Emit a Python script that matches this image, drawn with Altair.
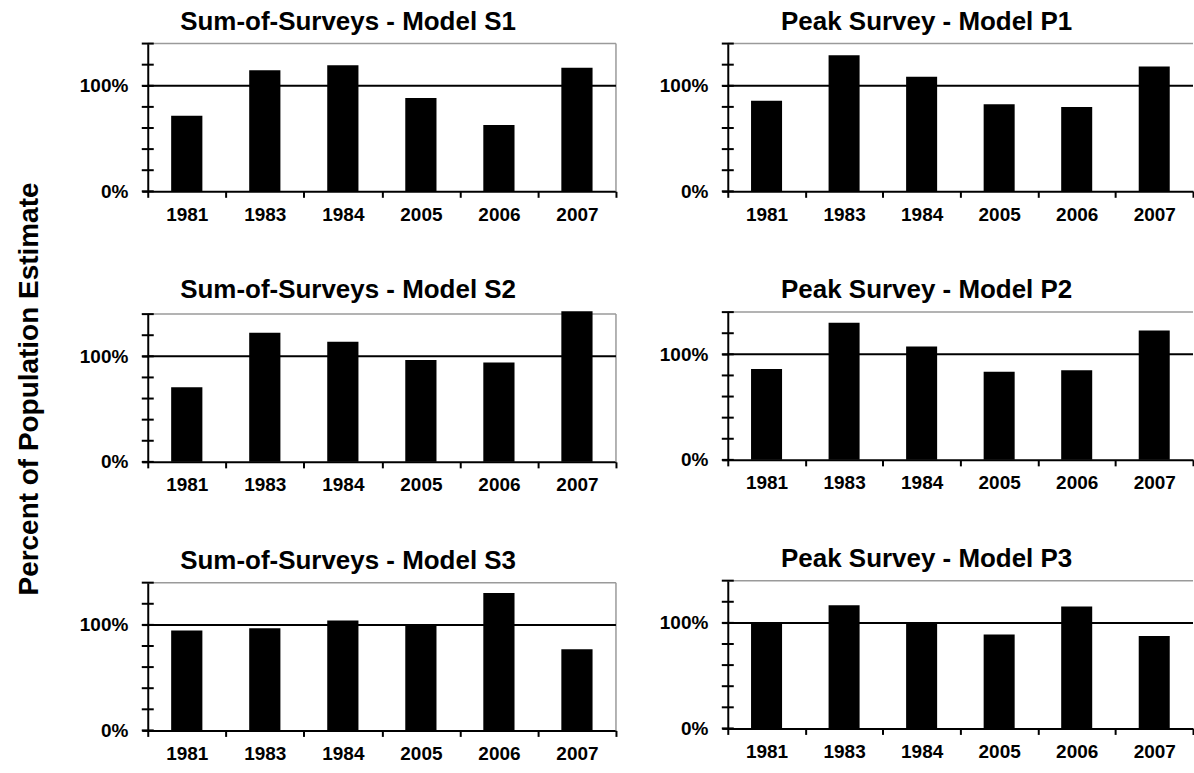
import altair as alt
import pandas as pd

FONT = "Liberation Sans"

# Survey years shown on every panel
years = ["1981", "1983", "1984", "2005", "2006", "2007"]

# Percent of population estimate, per model
s1 = [71.7, 114.8, 119.5, 88.4, 62.9, 117.0]
p1 = [85.8, 128.9, 108.5, 82.4, 79.9, 118.2]
s2 = [70.6, 122.4, 113.7, 96.5, 94.2, 142.8]
p2 = [86.1, 130.0, 107.4, 83.6, 84.8, 122.6]
s3 = [94.7, 96.9, 104.1, 100.0, 130.3, 76.9]
p3 = [100.0, 116.8, 100.0, 88.9, 115.6, 87.6]

titles_left = ["Sum-of-Surveys - Model S1", "Sum-of-Surveys - Model S2", "Sum-of-Surveys - Model S3"]
titles_right = ["Peak Survey - Model P1", "Peak Survey - Model P2", "Peak Survey - Model P3"]

y_labels = [0, 100]
y_ticks = [0, 20, 40, 60, 80, 100, 120, 140]
reference_level = [100]
y_label = "Percent of Population Estimate"

PANEL_H = 148
LEFT_W = 469
RIGHT_W = 466
BORDER = "#9a9a9a"
LABEL_SIZE = 19
TITLE_SIZE = 26

Y_SCALE = alt.Scale(domain=[0, 140], nice=False, zero=True)
Y_AXIS = alt.Axis(
    values=y_labels, grid=False, labelOverlap=False,
    labelExpr="datum.label + '%'",
    tickSize=6, tickWidth=2, tickColor="black",
    domainWidth=2, domainColor="black",
    labelFont=FONT, labelFontSize=LABEL_SIZE, labelFontWeight="bold",
    labelColor="black", labelPadding=14,
)


def y_enc():
    return alt.Y("pct:Q", title=None, scale=Y_SCALE, axis=Y_AXIS)


def panel(title, values, width, right_border):
    df = pd.DataFrame({"year": years, "pct": values})
    x = alt.X(
        "year:N", sort=years, title=None,
        scale=alt.Scale(paddingInner=0, paddingOuter=0),
        axis=alt.Axis(
            labelAngle=0, tickBand="extent", tickSize=6, tickWidth=2,
            tickColor="black", domainWidth=2, domainColor="black",
            labelFont=FONT, labelFontSize=LABEL_SIZE, labelFontWeight="bold",
            labelColor="black", labelPadding=8,
        ),
    )
    bars = alt.Chart(df).mark_bar(color="black", width={"band": 0.4}).encode(x=x, y=y_enc())

    level = alt.Chart(pd.DataFrame({"pct": reference_level})).mark_rule(
        color="black", strokeWidth=2
    ).encode(y=y_enc())

    # cross ticks on the value axis, every 20%
    cross = alt.Chart(pd.DataFrame({"pct": y_ticks})).mark_rule(
        color="black", strokeWidth=2
    ).encode(y=y_enc(), x=alt.value(-6), x2=alt.value(6))

    top = alt.Chart(pd.DataFrame({"pct": [140]})).mark_rule(
        color=BORDER, strokeWidth=1.5
    ).encode(y=alt.value(0), x=alt.value(0), x2=alt.value(width))

    layers = [top, bars, level, cross]
    if right_border:
        side = alt.Chart(pd.DataFrame({"pct": [140]})).mark_rule(
            color=BORDER, strokeWidth=1.5
        ).encode(x=alt.value(width), y=alt.value(0), y2=alt.value(PANEL_H))
        layers.insert(1, side)

    return alt.layer(*layers).properties(
        width=width, height=PANEL_H,
        title=alt.Title(title, font=FONT, fontSize=TITLE_SIZE, fontWeight="bold",
                        color="black", anchor="middle", frame="bounds", offset=8),
    )


left = alt.vconcat(
    panel(titles_left[0], s1, LEFT_W, True),
    panel(titles_left[1], s2, LEFT_W, True),
    panel(titles_left[2], s3, LEFT_W, True),
    spacing=53,
)
right = alt.vconcat(
    panel(titles_right[0], p1, RIGHT_W, False),
    panel(titles_right[1], p2, RIGHT_W, False),
    panel(titles_right[2], p3, RIGHT_W, False),
    spacing=53,
)

ytitle = alt.Chart(pd.DataFrame({"t": [y_label]})).mark_text(
    angle=270, font=FONT, fontSize=28, fontWeight="bold", color="black",
    align="center", baseline="middle",
).encode(text="t:N", x=alt.value(30), y=alt.value(346)).properties(width=60, height=700)

chart = alt.hconcat(
    ytitle,
    alt.hconcat(left, right, spacing=42),
    spacing=19,
).properties(
    padding={"left": 0, "top": 8, "right": 0, "bottom": 0},
).configure_view(strokeWidth=0)

chart.save("out.html", embed_options={"renderer": "svg", "actions": False})
